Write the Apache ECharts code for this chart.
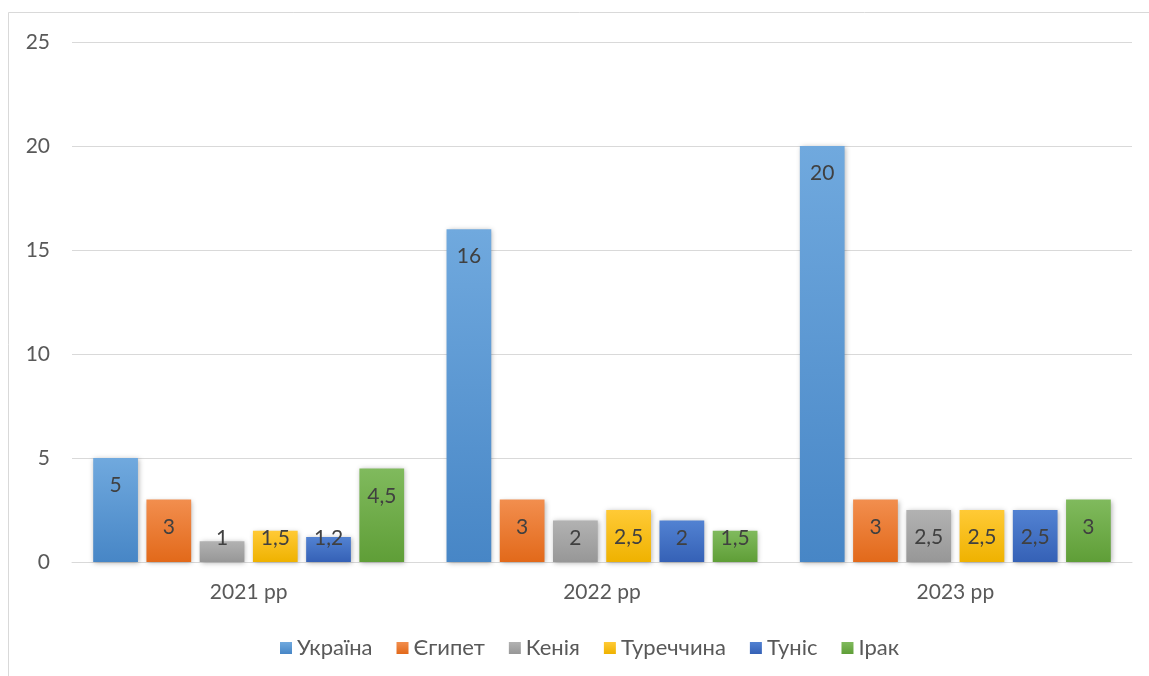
<!DOCTYPE html>
<html><head><meta charset="utf-8">
<script src="https://cdn.jsdelivr.net/npm/echarts@6/dist/echarts.min.js"></script>
<style>html,body{margin:0;padding:0;background:#fff}#c{width:1149px;height:676px}</style>
</head><body><div id="c"></div>
<script>
const categories = ['2021 рр', '2022 рр', '2023 рр'];
const seriesNames = ['Україна', 'Єгипет', 'Кенія', 'Туреччина', 'Туніс', 'Ірак'];
const ukraine = [5, 16, 20];
const egypt = [3, 3, 3];
const kenya = [1, 2, 2.5];
const turkey = [1.5, 2.5, 2.5];
const tunisia = [1.2, 2, 2.5];
const iraq = [4.5, 1.5, 3];
const yTicks = { min: 0, max: 25, interval: 5 };

const values = [ukraine, egypt, kenya, turkey, tunisia, iraq];
const colors = [
  ['#70a9de', '#4786c6', '#5b9bd5'],
  ['#f28e4e', '#e2691a', '#ed7d31'],
  ['#b2b2b2', '#979797', '#a5a5a5'],
  ['#ffca36', '#efb200', '#ffc000'],
  ['#5282d2', '#3561b6', '#4472c4'],
  ['#80ba5d', '#5f9e37', '#70ad47']
];
const FONT = 'Lato';
const fmt = p => String(p.value).replace('.', ',');
const chart = echarts.init(document.getElementById('c'));
chart.setOption({
  backgroundColor: '#fff',
  animation: false,
  graphic: [{ type: 'rect', shape: { x: 8.5, y: 12.5, width: 1200, height: 700 }, style: { fill: 'none', stroke: '#d9d9d9', lineWidth: 1 }, silent: true }],
  grid: { left: 72, right: 17, top: 42, bottom: 114 },
  legend: {
    top: 632, left: 275, itemWidth: 12, itemHeight: 12, itemGap: 24,
    icon: 'rect',
    textStyle: { fontFamily: FONT, fontSize: 22, color: '#595959' },
    data: seriesNames
  },
  xAxis: {
    type: 'category', data: categories,
    axisLine: { lineStyle: { color: '#d9d9d9', width: 1 } },
    axisTick: { show: false },
    axisLabel: { fontFamily: FONT, fontSize: 21, color: '#595959', margin: 20 }
  },
  yAxis: {
    type: 'value', min: yTicks.min, max: yTicks.max, interval: yTicks.interval,
    axisLine: { show: false }, axisTick: { show: false },
    splitLine: { lineStyle: { color: '#d9d9d9', width: 1 } },
    axisLabel: { fontFamily: FONT, fontSize: 21, color: '#595959', margin: 22, align: 'right' }
  },
  series: seriesNames.map((n, i) => ({
    name: n, type: 'bar',
    data: values[i].map(v => v < 2.5 ? { value: v, label: { position: 'insideBottom', distance: 13 } } : v),
    barGap: '19%', barCategoryGap: '12%',
    itemStyle: {
      color: new echarts.graphic.LinearGradient(0, 0, 0, 1, [
        { offset: 0, color: colors[i][0] }, { offset: 1, color: colors[i][1] }
      ]),
      shadowColor: 'rgba(0,0,0,0.3)', shadowBlur: 5, shadowOffsetX: 1, shadowOffsetY: 1
    },
    label: {
      show: true, position: 'insideTop', distance: 17, formatter: fmt,
      fontFamily: FONT, fontSize: 21, color: '#404040'
    }
  })),
  color: colors.map(c => c[2])
});
</script></body></html>
